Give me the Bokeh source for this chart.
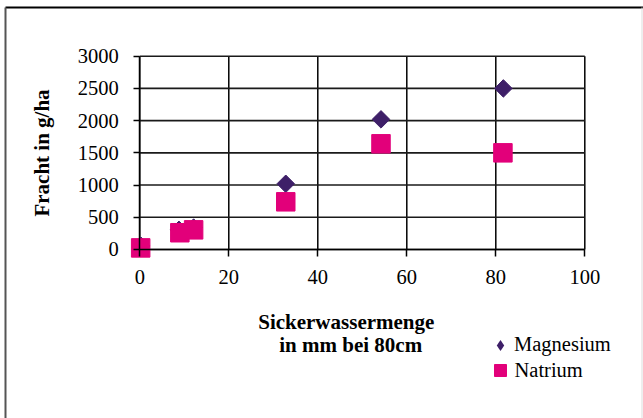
import numpy as np
from bokeh.plotting import figure
from bokeh.models import Legend, LegendItem, Label, BoxAnnotation, FixedTicker, LinearAxis
from bokeh.embed import file_html
from bokeh.resources import INLINE

# Drainage water amount (mm at 80 cm depth) and leached load (g/ha)
x_magnesium = [0.3, 8.8, 12.1, 32.8, 54.2, 81.7]
magnesium = [55, 305, 340, 1020, 2020, 2500]
x_natrium = [0.2, 9.0, 12.1, 32.8, 54.2, 81.6]
natrium = [25, 260, 305, 740, 1640, 1500]

x_ticks = [0, 20, 40, 60, 80, 100]
y_ticks = [0, 500, 1000, 1500, 2000, 2500, 3000]

x_title = ["Sickerwassermenge", "in mm bei 80cm"]
y_title = "Fracht in g/ha"

MG_COLOR = "#3E1F68"
NA_COLOR = "#E2007A"
SERIF = "Liberation Serif"

# The frame spans the whole canvas; the plot area (0..100 x 0..3000) sits inside it
p = figure(width=643, height=418, x_range=(-31.30, 113.19), y_range=(-2623, 3864.5),
           output_backend="svg", toolbar_location=None,
           x_axis_location=None, y_axis_location=None, min_border=0,
           background_fill_color="white", border_fill_color="white")
p.outline_line_color = None
p.grid.visible = False

# plot-area grid, drawn between the first and last tick of each axis
p.segment(x0=x_ticks, y0=y_ticks[0], x1=x_ticks, y1=y_ticks[-1],
          line_color="black", line_width=1.5)
p.segment(x0=x_ticks[0], y0=y_ticks, x1=x_ticks[-1], y1=y_ticks,
          line_color="#1a1a1a", line_width=1.6)

# axes pinned to the origin
xax = LinearAxis(fixed_location=0, bounds=(x_ticks[0], x_ticks[-1]),
                 ticker=FixedTicker(ticks=x_ticks))
yax = LinearAxis(fixed_location=0, bounds=(y_ticks[0], y_ticks[-1]),
                 ticker=FixedTicker(ticks=y_ticks))
for ax in (xax, yax):
    ax.axis_line_color = "black"
    ax.axis_line_width = 1.5
    ax.major_tick_line_color = "black"
    ax.major_tick_line_width = 1.5
    ax.major_tick_in = 0
    ax.minor_tick_line_color = None
    ax.major_label_text_font = SERIF
    ax.major_label_text_font_size = "20.5px"
    ax.major_label_text_color = "black"
xax.major_tick_out = 7
yax.major_tick_out = 6
xax.major_label_standoff = 14
yax.major_label_standoff = 15

yax.axis_label = y_title
yax.axis_label_text_font = SERIF
yax.axis_label_text_font_style = "bold"
yax.axis_label_text_font_size = "21px"
yax.axis_label_text_color = "black"
yax.axis_label_standoff = 21

p.add_layout(xax, "below")
p.add_layout(yax, "left")

# magnesium: a diamond glyph for the legend key, covered by the plotted
# diamonds (squares turned by 45 degrees); natrium squares drawn on top
mg_key = p.scatter(x_magnesium, magnesium, marker="diamond", size=14,
                   fill_color=MG_COLOR, line_color=None)
mg = p.scatter(x_magnesium, magnesium, marker="square", angle=np.pi / 4, size=12.4,
               fill_color=MG_COLOR, line_color=MG_COLOR)
na = p.scatter(x_natrium, natrium, marker="square", size=18.5,
               fill_color=NA_COLOR, line_color=NA_COLOR)

# x-axis title (two centred lines below the tick labels)
for i, line in enumerate(x_title):
    p.add_layout(Label(x=46.4 + 1.0 * i, y=-1133 - 355 * i, text=line,
                       text_font=SERIF, text_font_style="bold",
                       text_font_size="21px", text_color="black",
                       text_align="center", text_baseline="middle"))

# legend entries
def legend_for(name, renderer, loc, box, standoff):
    lg = Legend(items=[LegendItem(label=name, renderers=[renderer])],
                location=loc, orientation="vertical",
                glyph_width=box, glyph_height=box, label_standoff=standoff,
                padding=0, margin=0, spacing=0,
                border_line_color=None, background_fill_alpha=0,
                label_text_font=SERIF, label_text_font_size="20.5px",
                label_text_color="black")
    p.add_layout(lg)

legend_for("Magnesium", mg_key, (486, 59.5), 28, 0)
legend_for("Natrium", na, (484.5, 33), 30, 0)

# outer chart border
def edge(left, right, top, bottom, color):
    p.add_layout(BoxAnnotation(left=left, right=right, top=top, bottom=bottom,
                               left_units="canvas", right_units="canvas",
                               top_units="canvas", bottom_units="canvas",
                               fill_color=color, fill_alpha=1, line_color=None))

edge(5, 643, 6, 8, "black")
edge(4, 6, 7, 418, "#555555")
edge(641, 642, 7, 418, "#dddddd")

open("out.html", "w").write(file_html(p, INLINE))
